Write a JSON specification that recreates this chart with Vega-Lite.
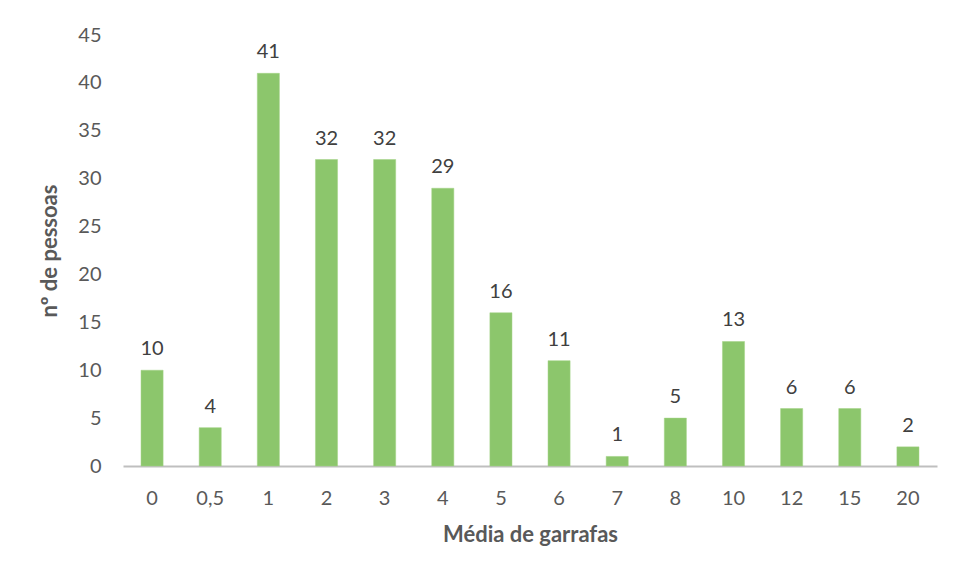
{
  "$schema": "https://vega.github.io/schema/vega-lite/v6.json",
  "autosize": "none",
  "width": 814,
  "height": 431,
  "padding": {"left": 123, "top": 35, "right": 18, "bottom": 112},
  "background": "white",
  "config": {
    "view": {"stroke": null},
    "font": "Lato",
    "axis": {"labelColor": "#595959", "titleColor": "#595959", "labelFont": "Lato", "titleFont": "Lato"}
  },
  "data": {
    "values": [
      {"media": "0", "pessoas": 10},
      {"media": "0,5", "pessoas": 4},
      {"media": "1", "pessoas": 41},
      {"media": "2", "pessoas": 32},
      {"media": "3", "pessoas": 32},
      {"media": "4", "pessoas": 29},
      {"media": "5", "pessoas": 16},
      {"media": "6", "pessoas": 11},
      {"media": "7", "pessoas": 1},
      {"media": "8", "pessoas": 5},
      {"media": "10", "pessoas": 13},
      {"media": "12", "pessoas": 6},
      {"media": "15", "pessoas": 6},
      {"media": "20", "pessoas": 2}
    ]
  },
  "encoding": {
    "x": {
      "field": "media", "type": "ordinal", "sort": null,
      "scale": {"paddingInner": 0.62, "paddingOuter": 0.31},
      "axis": {
        "title": "Média de garrafas", "labelAngle": 0, "ticks": false,
        "domainColor": "#bfbfbf", "domainWidth": 2,
        "labelFontSize": 20, "labelPadding": 22,
        "titleFontSize": 22, "titleFontWeight": "bold", "titlePadding": 16
      }
    },
    "y": {
      "field": "pessoas", "type": "quantitative",
      "scale": {"domain": [0, 45], "nice": false},
      "axis": {
        "title": "nº de pessoas", "values": [0,5,10,15,20,25,30,35,40,45],
        "grid": false, "domain": false, "ticks": false,
        "labelFontSize": 20, "labelPadding": 22,
        "titleFontSize": 22, "titleFontWeight": "bold", "titlePadding": 16
      }
    }
  },
  "layer": [
    {"mark": {"type": "bar", "color": "#8cc66c", "stroke": "#a3d285", "strokeWidth": 0.5}},
    {"mark": {"type": "text", "baseline": "bottom", "dy": -11, "fontSize": 20, "color": "#404040", "font": "Lato"},
     "encoding": {"text": {"field": "pessoas", "type": "quantitative"}}}
  ]
}
